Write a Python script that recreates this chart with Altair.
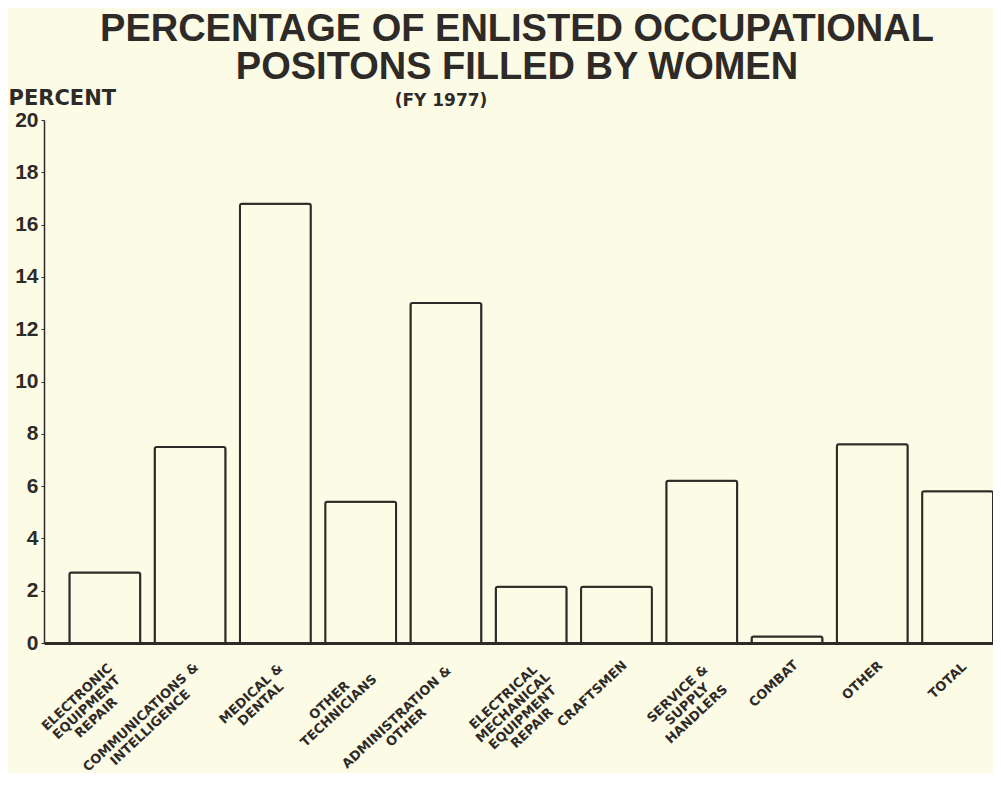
import altair as alt
import pandas as pd

# ---- data ----
categories = [
    "ELECTRONIC|EQUIPMENT|REPAIR",
    "COMMUNICATIONS &|INTELLIGENCE",
    "MEDICAL &|DENTAL",
    "OTHER|TECHNICIANS",
    "ADMINISTRATION &|OTHER",
    "ELECTRICAL|MECHANICAL|EQUIPMENT|REPAIR",
    "CRAFTSMEN",
    "SERVICE &|SUPPLY|HANDLERS",
    "COMBAT",
    "OTHER",
    "TOTAL",
]
percent = [2.7, 7.5, 16.8, 5.4, 13.0, 2.15, 2.15, 6.2, 0.25, 7.6, 5.8]
y_ticks = [0, 2, 4, 6, 8, 10, 12, 14, 16, 18, 20]
title_lines = ["PERCENTAGE OF ENLISTED OCCUPATIONAL", "POSITONS FILLED BY WOMEN"]
subtitle = "(FY 1977)"
y_title = "PERCENT"

BG = "#FCFBE6"
INK = "#2e2a27"

df = pd.DataFrame({"cat": categories, "pct": percent})

maxlen = ("max(length(split(datum.value,'|')[0]),"
          "length(split(datum.value,'|')[1] || ''),"
          "length(split(datum.value,'|')[2] || ''),"
          "length(split(datum.value,'|')[3] || ''))")
CW = 9.8

bars = alt.Chart(df).mark_bar(
    fill=BG, stroke=INK, strokeWidth=2,
    cornerRadiusTopLeft=2, cornerRadiusTopRight=2,
).encode(
    x=alt.X(
        "cat:N", sort=categories,
        scale=alt.Scale(paddingInner=0.169, paddingOuter=0.149, align=1.0, round=False),
        axis=alt.Axis(
            title=None,
            labelExpr="split(datum.value, '|')",
            labelAngle=317,
            labelAlign="center",
            labelBaseline="top",
            labelFont="DejaVu Sans",
            labelFontSize=13,
            labelFontWeight="bold",
            labelLineHeight=14,
            labelColor=INK,
            labelOverlap=False,
            labelFlush=False,
            labelOffset=alt.ExprRef(f"4 - 0.3657*{CW}*{maxlen}"),
            labelPadding=alt.ExprRef(f"16 + 0.341*{CW}*{maxlen}"),
            tickSize=0,
            domainColor=INK,
            domainWidth=3,
        ),
    ),
    y=alt.Y(
        "pct:Q",
        scale=alt.Scale(domain=[0, 20], nice=False),
        axis=alt.Axis(
            values=y_ticks,
            title=y_title,
            titleAngle=0,
            titleAlign="left",
            titleBaseline="alphabetic",
            titleX=-36,
            titleY=-16,
            titleFont="DejaVu Sans",
            titleFontSize=21,
            titleFontWeight="bold",
            titleColor=INK,
            labelFont="Liberation Sans",
            labelFontSize=21,
            labelFontWeight="bold",
            labelColor=INK,
            labelPadding=3,
            tickSize=3,
            tickColor=INK,
            domainColor=INK,
            domainWidth=1.5,
            grid=False,
        ),
    ),
)

one = pd.DataFrame({"k": [0]})

title = alt.Chart(one).mark_text(
    text=title_lines, font="Liberation Sans", fontSize=38, fontWeight="bold",
    color=INK, align="center", baseline="alphabetic", lineHeight=38,
).encode(x=alt.value(473), y=alt.value(-79))

sub = alt.Chart(one).mark_text(
    text=subtitle, font="DejaVu Sans", fontSize=17, fontWeight="bold",
    color=INK, align="center", baseline="alphabetic",
).encode(x=alt.value(397), y=alt.value(-14))

chart = alt.layer(bars, title, sub).properties(
    width=949,
    height=523,
    autosize=alt.AutoSizeParams(type="none"),
    padding={"left": 36, "top": 112, "right": 0, "bottom": 130},
    background=BG,
).configure_view(stroke=None)

chart.save("out.html", embed_options={"renderer": "svg", "actions": False})
